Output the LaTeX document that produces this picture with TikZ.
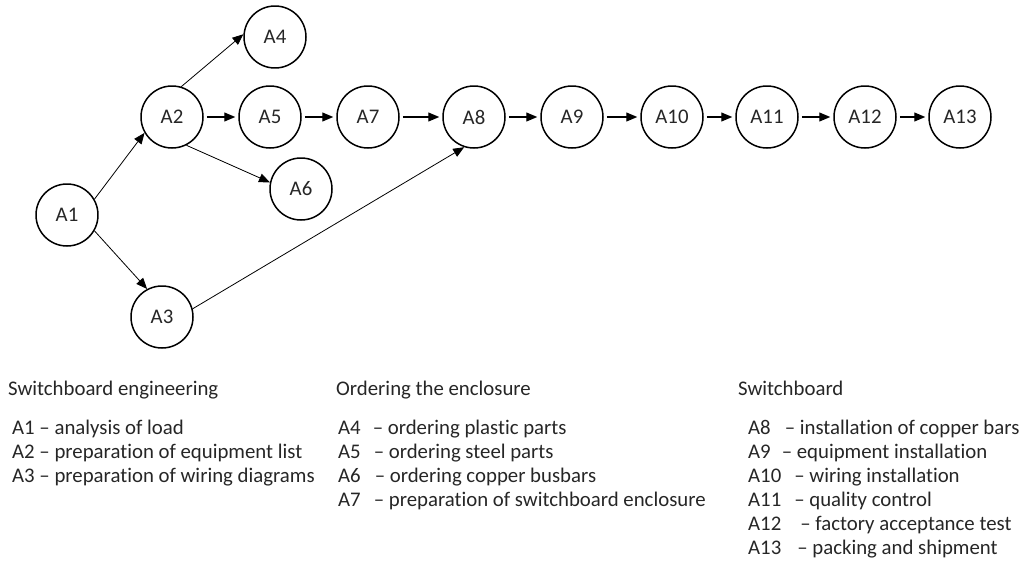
\documentclass[tikz,border=0pt]{standalone}
\usepackage{fontspec}
\setmainfont{Carlito}[Ligatures={NoCommon}]
\usetikzlibrary{arrows.meta}
\begin{document}
\begin{tikzpicture}[x=1pt,y=-1pt,font=\fontsize{20.8}{24}\selectfont,line join=round,
	act/.style={circle,draw,line width=1.5pt,minimum size=62pt,inner sep=0pt,text=black!85},
	>={Triangle[length=11pt,width=9pt]},
	arr/.style={->,line width=1.2pt,shorten >=3pt,shorten <=3pt},
	darr/.style={->,line width=0.8pt},
	lgd/.style={anchor=base west,inner sep=0pt,text=black!85}]
	\useasboundingbox (0,0) rectangle (1029,562);
	% activities
	\node[act] (A1) at (67,215) {A1};
	\node[act] (A2) at (172,117) {A2};
	\node[act] (A3) at (162,317) {A3};
	\node[act] (A4) at (275,37) {A4};
	\node[act] (A5) at (270,117) {A5};
	\node[act] (A6) at (301,189) {A6};
	\node[act] (A7) at (368,117) {A7};
	\node[act] (A8) at (474,117) {A8};
	\node[act] (A9) at (572,117) {A9};
	\node[act] (A10) at (672,117) {A10};
	\node[act] (A11) at (767,117) {A11};
	\node[act] (A12) at (865,117) {A12};
	\node[act] (A13) at (960,117) {A13};
	% precedences
	\draw[darr] (A1.30) -- (A2.210);
	\draw[darr] (A1.-30) -- (A3.118);
	\draw[darr] (A2.73) -- (A4.175);
	\draw[darr] (A2.-63) -- (A6.168);
	\draw[darr] (A3.15) -- (A8.252);
	\foreach \a/\b in {A2/A5,A5/A7,A7/A8,A8/A9,A9/A10,A10/A11,A11/A12,A12/A13}
		\draw[arr] (\a) -- (\b);
	% legend
	\node[lgd] (h1) at (8,395) {Switchboard engineering};
	\node[lgd] (h2) at (336,395) {Ordering the enclosure};
	\node[lgd] (h3) at (738,395) {Switchboard};
	\node[lgd] (d1) at (12,434) {A1 – analysis of load};
	\node[lgd] (d2) at (12,458) {A2 – preparation of equipment list};
	\node[lgd] (d3) at (12,482) {A3 – preparation of wiring diagrams};
	\node[lgd] (d4) at (338,434) {A4\hspace{12pt}– ordering plastic parts};
	\node[lgd] (d5) at (338,458) {A5\hspace{13pt}– ordering steel parts};
	\node[lgd] (d6) at (338,482) {A6\hspace{14pt}– ordering copper busbars};
	\node[lgd] (d7) at (338,506) {A7\hspace{13pt}– preparation of switchboard enclosure};
	\node[lgd] (d8) at (748,434) {A8\hspace{14pt}– installation of copper bars};
	\node[lgd] (d9) at (748,458) {A9\hspace{11pt}– equipment installation};
	\node[lgd] (d10) at (748,482) {A10\hspace{13pt}– wiring installation};
	\node[lgd] (d11) at (748,506) {A11\hspace{13pt}– quality control};
	\node[lgd] (d12) at (748,530) {A12\hspace{19pt}– factory acceptance test};
	\node[lgd] (d13) at (748,554) {A13\hspace{16pt}– packing and shipment};
\end{tikzpicture}
\end{document}
